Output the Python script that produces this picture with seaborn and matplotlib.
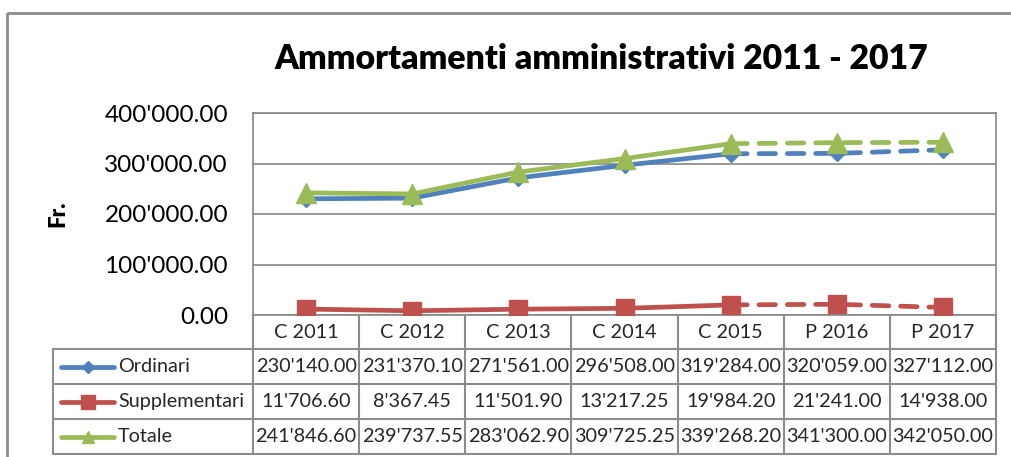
import pandas as pd
import matplotlib
matplotlib.use("Agg")
import matplotlib.pyplot as plt
import seaborn as sns
from matplotlib.patches import Rectangle
from matplotlib.ticker import FuncFormatter

categorie = ["C 2011", "C 2012", "C 2013", "C 2014", "C 2015", "P 2016", "P 2017"]
ordinari = [230140.00, 231370.10, 271561.00, 296508.00, 319284.00, 320059.00, 327112.00]
supplementari = [11706.60, 8367.45, 11501.90, 13217.25, 19984.20, 21241.00, 14938.00]
totale = [241846.60, 239737.55, 283062.90, 309725.25, 339268.20, 341300.00, 342050.00]
serie = ["Ordinari", "Supplementari", "Totale"]
valori = [ordinari, supplementari, totale]
colori = ["#4F81BD", "#C0504D", "#9BBB59"]
marcatori = ["D", "s", "^"]
msize = [8, 13, 15]
n_cons = 5  # consuntivi C, poi preventivi P tratteggiati

sns.set_theme(style="white")
plt.rcParams["font.family"] = ["Lato", "DejaVu Sans"]


def fmt(v, pos=None):
    return f"{v:,.2f}".replace(",", "'")


W, H = 1011, 457
fig = plt.figure(figsize=(W / 100, H / 100), dpi=100)
L, R, T, B = 253, 996, 113, 315
ax = fig.add_axes([L / W, 1 - B / H, (R - L) / W, (B - T) / H])

x = list(range(len(categorie)))
df = pd.DataFrame({"pos": x * 3,
                   "valore": ordinari + supplementari + totale,
                   "serie": sum([[s] * len(x) for s in serie], [])})

for s, c, m, ms in zip(serie, colori, marcatori, msize):
    d = df[df.serie == s]
    sns.lineplot(data=d[d.pos < n_cons], x="pos", y="valore", color=c, lw=3.4,
                 ax=ax, solid_capstyle="round", zorder=3)
    sns.lineplot(data=d[d.pos >= n_cons - 1], x="pos", y="valore", color=c, lw=3.4,
                 ax=ax, linestyle=(0, (3.5, 2.5)), dash_capstyle="round", zorder=3)
    ax.plot(d.pos, d.valore, ls="none", marker=m, ms=ms, color=c, zorder=4)

ax.set_xlim(-0.5, len(categorie) - 0.5)
ax.set_ylim(0, 400000)
ax.set_yticks([0, 100000, 200000, 300000, 400000])
ax.yaxis.set_major_formatter(FuncFormatter(fmt))
ax.tick_params(axis="y", labelsize=17.5, pad=18, length=0, colors="black")
ax.set_xticks([])
ax.set_xlabel("")
ax.set_ylabel("Fr.", fontsize=16, fontweight="heavy", labelpad=26, color="black")
ax.grid(axis="y", color="#868686", lw=1.2)
for sp in ax.spines.values():
    sp.set_color("#868686")
    sp.set_linewidth(1.2)
ax.set_title("Ammortamenti amministrativi 2011 - 2017", fontsize=24.3,
             fontweight="heavy", pad=32, x=0.469, color="black")

# tabella dati sotto il grafico
tax = fig.add_axes([0, 0, 1, 1], facecolor="none")
tax.set_xlim(0, W)
tax.set_ylim(H, 0)
tax.axis("off")
grigio = "#8c8c8c"
colw = (R - L) / len(categorie)
righe = [315, 349, 384, 419, 454]
left_tab = 53
fs = 14.3
tax.add_patch(Rectangle((7, 13), W + 20, H + 20, fill=False, ec="#8c8c8c", lw=2))
for yy in righe[1:]:
    tax.plot([left_tab, R], [yy, yy], color=grigio, lw=1.5)
tax.plot([left_tab, left_tab], [righe[1], righe[-1]], color=grigio, lw=1.5)
for i in range(len(categorie) + 1):
    tax.plot([L + i * colw] * 2, [righe[0], righe[-1]], color=grigio, lw=1.5)

for i, cat in enumerate(categorie):
    cx = L + (i + 0.5) * colw
    tax.text(cx, (righe[0] + righe[1]) / 2, cat, ha="center", va="center", fontsize=fs)
    for j, vals in enumerate(valori):
        tax.text(cx, (righe[j + 1] + righe[j + 2]) / 2, fmt(vals[i]),
                 ha="center", va="center", fontsize=fs)

for j, (s, c, m) in enumerate(zip(serie, colori, marcatori)):
    cy = (righe[j + 1] + righe[j + 2]) / 2
    tax.plot([61, 114], [cy, cy], color=c, lw=3.4, solid_capstyle="round")
    tax.plot([87.5], [cy], marker=m, ms=[6, 10, 9][j], color=c, ls="none")
    tax.text(118, cy, s, ha="left", va="center", fontsize=fs)

fig.savefig("out.png", dpi=100)
